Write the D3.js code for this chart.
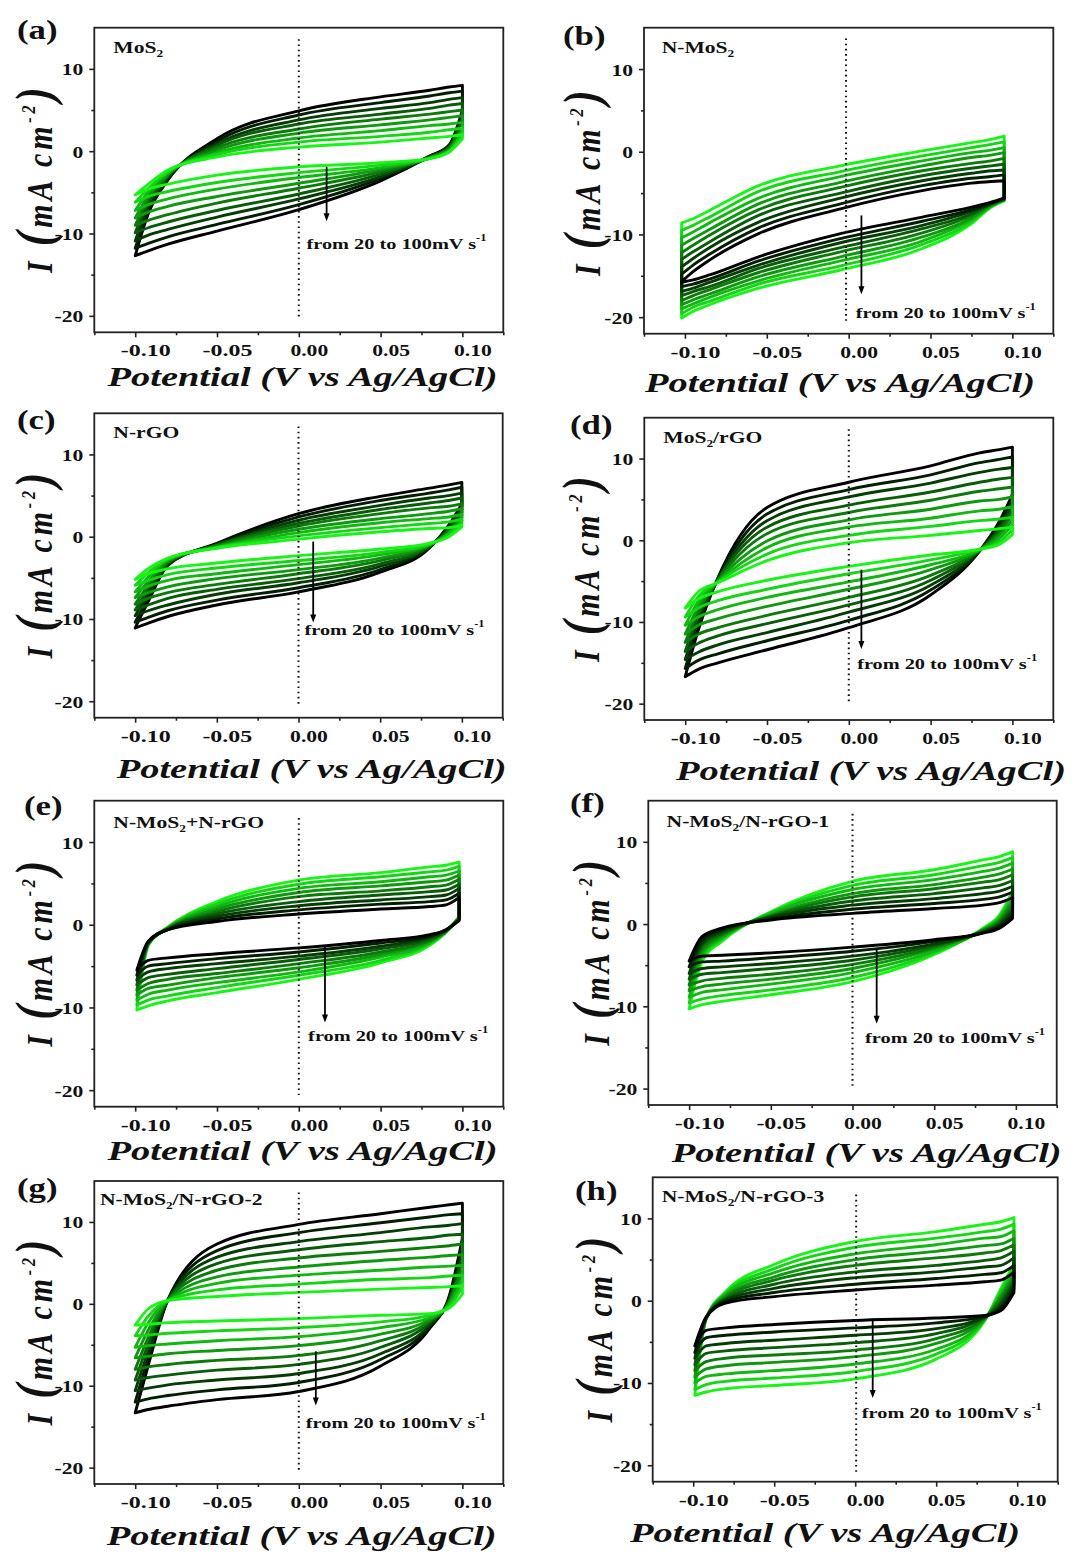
<!DOCTYPE html>
<html><head><meta charset="utf-8">
<script src="https://cdn.jsdelivr.net/npm/d3@7"></script>
<style>
body{margin:0;background:#fff}
svg{display:block}
text{font-family:"Liberation Serif","Times New Roman","DejaVu Serif",serif;font-weight:bold;fill:#111}
</style>
</head><body>
<svg id="chart" width="1091" height="1555"></svg>
<script>
// ---------------- DATA ----------------
const scanRates = [20, 30, 40, 50, 60, 70, 80, 90, 100]; // mV s-1
const xTicks = [-0.10, -0.05, 0.00, 0.05, 0.10];
const xMinorTicks = [-0.125, -0.075, -0.025, 0.025, 0.075, 0.125];
const yTicks = [-20, -10, 0, 10];
const yMinorTicks = [-15, -5, 5];

// (a) MoS2
const potA = [-0.1, -0.092, -0.08, -0.05, 0, 0.05, 0.08, 0.092, 0.1];
const upA = [
  [-5.3, -4.0, -2.3, -0.7, 0.5, 1.1, 1.6, 1.8, 2.0],
  [-6.2, -4.5, -2.5, -0.4, 1.1, 1.8, 2.3, 2.6, 2.8],
  [-7.2, -4.9, -2.6, -0.2, 1.6, 2.5, 3.1, 3.3, 3.5],
  [-8.1, -5.4, -2.8, 0.1, 2.2, 3.2, 3.8, 4.1, 4.3],
  [-9.0, -5.8, -2.9, 0.4, 2.7, 3.9, 4.5, 4.8, 5.0],
  [-9.9, -6.3, -3.1, 0.7, 3.3, 4.5, 5.2, 5.6, 5.8],
  [-10.9, -6.7, -3.2, 0.9, 3.8, 5.2, 5.9, 6.3, 6.5],
  [-11.8, -7.2, -3.4, 1.2, 4.4, 5.9, 6.7, 7.1, 7.3],
  [-12.7, -7.6, -3.5, 1.5, 4.9, 6.6, 7.4, 7.8, 8.0]];
const lowA = [
  [-5.3, -4.6, -4.0, -2.9, -1.9, -1.4, -0.9, -0.1, 1.5],
  [-6.2, -5.5, -4.9, -3.8, -2.6, -1.7, -0.9, 0.0, 1.9],
  [-7.2, -6.5, -5.8, -4.6, -3.2, -2.0, -0.8, 0.1, 2.4],
  [-8.1, -7.4, -6.7, -5.5, -3.9, -2.2, -0.8, 0.2, 2.8],
  [-9.0, -8.4, -7.7, -6.3, -4.5, -2.5, -0.8, 0.4, 3.3],
  [-9.9, -9.3, -8.6, -7.2, -5.2, -2.8, -0.7, 0.5, 3.7],
  [-10.9, -10.2, -9.5, -8.0, -5.8, -3.1, -0.7, 0.6, 4.1],
  [-11.8, -11.2, -10.4, -8.9, -6.5, -3.3, -0.6, 0.7, 4.6],
  [-12.7, -12.1, -11.3, -9.7, -7.1, -3.6, -0.6, 0.8, 5.0]];

// (b) N-MoS2
const potB = [-0.102, -0.095, -0.085, -0.055, -0.005, 0.045, 0.075, 0.087, 0.095];
const upB = [
  [-15.7, -14.5, -13.1, -9.9, -6.9, -4.7, -3.8, -3.6, -3.5],
  [-14.8, -13.7, -12.4, -9.2, -6.3, -4.1, -3.2, -3.0, -2.8],
  [-13.9, -12.9, -11.6, -8.5, -5.6, -3.5, -2.6, -2.3, -2.2],
  [-13.0, -12.1, -10.9, -7.7, -5.0, -2.9, -2.0, -1.7, -1.5],
  [-12.2, -11.3, -10.1, -7.0, -4.3, -2.3, -1.4, -1.1, -0.8],
  [-11.3, -10.5, -9.4, -6.3, -3.7, -1.7, -0.7, -0.4, -0.1],
  [-10.4, -9.7, -8.6, -5.6, -3.0, -1.1, -0.1, 0.2, 0.5],
  [-9.5, -8.9, -7.9, -4.8, -2.4, -0.5, 0.5, 0.9, 1.2],
  [-8.6, -8.1, -7.1, -4.1, -1.7, 0.1, 1.1, 1.5, 1.9]];
const lowB = [
  [-15.8, -15.5, -14.9, -12.7, -9.9, -7.9, -6.7, -6.1, -5.6],
  [-16.3, -16.0, -15.4, -13.2, -10.5, -8.4, -7.0, -6.2, -5.6],
  [-16.9, -16.5, -15.8, -13.7, -11.0, -8.9, -7.2, -6.3, -5.7],
  [-17.4, -16.9, -16.3, -14.1, -11.6, -9.3, -7.5, -6.3, -5.7],
  [-18.0, -17.4, -16.7, -14.6, -12.1, -9.8, -7.7, -6.4, -5.8],
  [-18.5, -17.9, -17.2, -15.1, -12.7, -10.3, -8.0, -6.5, -5.8],
  [-19.0, -18.4, -17.6, -15.6, -13.2, -10.8, -8.2, -6.6, -5.8],
  [-19.6, -18.8, -18.1, -16.0, -13.8, -11.2, -8.5, -6.6, -5.9],
  [-20.1, -19.3, -18.5, -16.5, -14.3, -11.7, -8.7, -6.7, -5.9]];

// (c) N-rGO
const potC = [-0.1, -0.092, -0.08, -0.05, 0, 0.05, 0.08, 0.092, 0.1];
const upC = [
  [-5.2, -3.9, -2.6, -1.4, -0.3, 0.6, 1.0, 1.1, 1.4],
  [-5.9, -4.4, -2.7, -1.3, 0.1, 1.1, 1.6, 1.8, 2.1],
  [-6.7, -4.9, -2.8, -1.3, 0.5, 1.7, 2.2, 2.4, 2.7],
  [-7.4, -5.4, -2.9, -1.2, 0.9, 2.2, 2.8, 3.1, 3.4],
  [-8.2, -5.9, -3.1, -1.1, 1.3, 2.8, 3.5, 3.7, 4.0],
  [-8.9, -6.4, -3.2, -1.0, 1.6, 3.3, 4.1, 4.4, 4.7],
  [-9.6, -6.9, -3.3, -1.0, 2.0, 3.8, 4.7, 5.0, 5.3],
  [-10.4, -7.4, -3.4, -0.9, 2.4, 4.4, 5.3, 5.7, 6.0],
  [-11.1, -7.9, -3.5, -0.8, 2.8, 4.9, 5.9, 6.3, 6.6]];
const lowC = [
  [-5.2, -4.5, -3.9, -3.2, -2.3, -1.5, -0.8, 0.0, 1.2],
  [-5.9, -5.3, -4.6, -3.8, -2.9, -1.9, -0.9, 0.2, 1.6],
  [-6.7, -6.0, -5.3, -4.5, -3.4, -2.2, -1.0, 0.4, 1.9],
  [-7.4, -6.8, -6.1, -5.1, -4.0, -2.6, -1.0, 0.5, 2.3],
  [-8.2, -7.5, -6.8, -5.8, -4.5, -2.9, -1.1, 0.7, 2.6],
  [-8.9, -8.3, -7.5, -6.4, -5.1, -3.3, -1.2, 0.9, 3.0],
  [-9.6, -9.0, -8.3, -7.0, -5.6, -3.6, -1.3, 1.1, 3.3],
  [-10.4, -9.8, -9.0, -7.7, -6.2, -4.0, -1.3, 1.2, 3.7],
  [-11.1, -10.5, -9.7, -8.3, -6.7, -4.3, -1.4, 1.4, 4.0]];

// (d) MoS2/rGO
const potD = [-0.1, -0.092, -0.08, -0.05, 0, 0.05, 0.08, 0.092, 0.1];
const upD = [
  [-8.3, -6.3, -5.2, -2.5, -0.3, 0.6, 1.2, 1.4, 1.6],
  [-9.4, -6.9, -5.1, -1.7, 0.6, 1.7, 2.4, 2.6, 2.8],
  [-10.4, -7.5, -5.1, -0.9, 1.6, 2.7, 3.6, 3.8, 4.1],
  [-11.5, -8.1, -5.0, -0.1, 2.5, 3.8, 4.8, 5.0, 5.3],
  [-12.5, -8.7, -4.9, 0.8, 3.4, 4.9, 6.0, 6.3, 6.5],
  [-13.6, -9.2, -4.8, 1.6, 4.3, 5.9, 7.1, 7.5, 7.7],
  [-14.6, -9.8, -4.8, 2.4, 5.3, 7.0, 8.3, 8.7, 8.9],
  [-15.7, -10.4, -4.7, 3.2, 6.2, 8.0, 9.5, 9.9, 10.2],
  [-16.7, -11.0, -4.6, 4.0, 7.1, 9.1, 10.7, 11.1, 11.4]];
const lowD = [
  [-8.3, -7.2, -6.3, -4.9, -3.2, -1.8, -1.1, -0.5, 0.7],
  [-9.4, -8.3, -7.4, -6.0, -4.1, -2.4, -1.1, -0.2, 1.3],
  [-10.4, -9.4, -8.5, -7.0, -5.1, -3.0, -1.2, 0.2, 1.9],
  [-11.5, -10.4, -9.6, -8.1, -6.0, -3.6, -1.2, 0.6, 2.5],
  [-12.5, -11.5, -10.7, -9.2, -7.0, -4.3, -1.2, 0.9, 3.2],
  [-13.6, -12.6, -11.7, -10.2, -7.9, -4.9, -1.2, 1.3, 3.8],
  [-14.6, -13.7, -12.8, -11.3, -8.8, -5.5, -1.3, 1.6, 4.4],
  [-15.7, -14.7, -13.9, -12.3, -9.8, -6.1, -1.3, 2.0, 5.0],
  [-16.7, -15.8, -15.0, -13.4, -10.7, -6.7, -1.3, 2.3, 5.6]];

// (e) N-MoS2+N-rGO
const potE = [-0.099, -0.092, -0.08, -0.05, 0, 0.05, 0.08, 0.09, 0.098];
const upE = [
  [-5.5, -2.0, -0.6, 0.4, 1.3, 1.9, 2.2, 2.4, 3.3],
  [-6.1, -2.1, -0.6, 0.7, 1.8, 2.5, 2.8, 3.0, 3.8],
  [-6.7, -2.1, -0.5, 1.0, 2.3, 3.0, 3.4, 3.6, 4.4],
  [-7.3, -2.2, -0.5, 1.3, 2.8, 3.6, 4.0, 4.2, 4.9],
  [-7.9, -2.3, -0.5, 1.6, 3.4, 4.1, 4.6, 4.8, 5.5],
  [-8.5, -2.3, -0.4, 1.9, 3.9, 4.7, 5.2, 5.4, 6.0],
  [-9.1, -2.4, -0.4, 2.2, 4.4, 5.2, 5.8, 6.0, 6.5],
  [-9.7, -2.4, -0.3, 2.5, 4.9, 5.8, 6.4, 6.6, 7.1],
  [-10.3, -2.5, -0.3, 2.8, 5.4, 6.3, 7.0, 7.2, 7.6]];
const lowE = [
  [-5.5, -4.3, -4.0, -3.5, -2.8, -1.9, -1.2, -0.6, 0.5],
  [-6.1, -5.0, -4.7, -4.1, -3.3, -2.2, -1.4, -0.6, 0.6],
  [-6.7, -5.7, -5.3, -4.7, -3.8, -2.6, -1.5, -0.7, 0.6],
  [-7.3, -6.4, -6.0, -5.3, -4.2, -2.9, -1.7, -0.7, 0.7],
  [-7.9, -7.1, -6.6, -5.9, -4.7, -3.3, -1.9, -0.8, 0.8],
  [-8.5, -7.7, -7.3, -6.4, -5.2, -3.6, -2.0, -0.8, 0.8],
  [-9.1, -8.4, -7.9, -7.0, -5.7, -3.9, -2.2, -0.8, 0.9],
  [-9.7, -9.1, -8.6, -7.6, -6.1, -4.3, -2.3, -0.9, 0.9],
  [-10.3, -9.8, -9.2, -8.2, -6.6, -4.6, -2.5, -0.9, 1.0]];

// (f) N-MoS2/N-rGO-1
const potF = [-0.1, -0.092, -0.08, -0.05, 0, 0.05, 0.08, 0.09, 0.098];
const upF = [
  [-4.5, -1.5, -0.5, 0.5, 1.3, 1.9, 2.3, 2.6, 3.2],
  [-5.2, -1.9, -0.7, 0.6, 1.8, 2.5, 3.0, 3.3, 3.9],
  [-6.0, -2.3, -0.9, 0.8, 2.3, 3.1, 3.7, 4.0, 4.6],
  [-6.7, -2.6, -1.1, 0.9, 2.8, 3.7, 4.4, 4.7, 5.3],
  [-7.4, -3.0, -1.3, 1.0, 3.3, 4.3, 5.1, 5.4, 6.0],
  [-8.1, -3.4, -1.5, 1.1, 3.7, 4.8, 5.7, 6.1, 6.7],
  [-8.9, -3.8, -1.7, 1.3, 4.2, 5.4, 6.4, 6.8, 7.4],
  [-9.6, -4.1, -1.9, 1.4, 4.7, 6.0, 7.1, 7.5, 8.1],
  [-10.3, -4.5, -2.1, 1.5, 5.2, 6.6, 7.8, 8.2, 8.8]];
const lowF = [
  [-4.5, -3.9, -3.8, -3.5, -2.8, -1.9, -1.1, -0.5, 0.7],
  [-5.2, -4.6, -4.5, -4.1, -3.3, -2.1, -1.0, -0.3, 1.1],
  [-6.0, -5.4, -5.2, -4.8, -3.9, -2.4, -1.0, -0.1, 1.5],
  [-6.7, -6.1, -5.9, -5.4, -4.4, -2.6, -0.9, 0.1, 1.9],
  [-7.4, -6.9, -6.6, -6.1, -4.9, -2.8, -0.8, 0.3, 2.4],
  [-8.1, -7.6, -7.3, -6.7, -5.4, -3.0, -0.7, 0.5, 2.8],
  [-8.9, -8.3, -8.0, -7.3, -5.9, -3.3, -0.7, 0.7, 3.2],
  [-9.6, -9.1, -8.7, -8.0, -6.5, -3.5, -0.6, 0.9, 3.6],
  [-10.3, -9.8, -9.4, -8.6, -7.0, -3.7, -0.5, 1.1, 4.0]];

// (g) N-MoS2/N-rGO-2
const potG = [-0.1, -0.092, -0.08, -0.05, 0, 0.05, 0.08, 0.092, 0.1];
const upG = [
  [-2.6, -0.6, 0.4, 0.9, 1.4, 1.8, 2.0, 2.1, 2.2],
  [-3.9, -1.5, 0.4, 1.7, 2.4, 3.0, 3.2, 3.4, 3.5],
  [-5.3, -2.3, 0.4, 2.5, 3.5, 4.1, 4.5, 4.6, 4.7],
  [-6.6, -3.2, 0.4, 3.3, 4.5, 5.3, 5.7, 5.9, 6.0],
  [-8.0, -4.1, 0.5, 4.1, 5.6, 6.4, 6.9, 7.1, 7.3],
  [-9.3, -4.9, 0.5, 4.9, 6.6, 7.6, 8.1, 8.4, 8.5],
  [-10.6, -5.8, 0.5, 5.7, 7.6, 8.7, 9.4, 9.6, 9.8],
  [-12.0, -6.6, 0.5, 6.5, 8.7, 9.9, 10.6, 10.9, 11.0],
  [-13.3, -7.5, 0.5, 7.3, 9.7, 11.0, 11.8, 12.1, 12.3]];
const lowG = [
  [-2.6, -2.5, -2.3, -2.1, -1.8, -1.4, -1.2, -0.5, 1.2],
  [-3.9, -3.8, -3.6, -3.3, -2.9, -2.2, -1.4, -0.3, 2.1],
  [-5.3, -5.1, -4.9, -4.5, -4.0, -2.9, -1.7, -0.1, 2.9],
  [-6.6, -6.4, -6.1, -5.7, -5.1, -3.7, -1.9, 0.1, 3.8],
  [-8.0, -7.7, -7.4, -6.9, -6.3, -4.5, -2.1, 0.3, 4.6],
  [-9.3, -9.0, -8.7, -8.1, -7.4, -5.3, -2.3, 0.4, 5.5],
  [-10.6, -10.3, -9.9, -9.3, -8.5, -6.1, -2.6, 0.6, 6.3],
  [-12.0, -11.6, -11.2, -10.5, -9.6, -6.8, -2.8, 0.8, 7.2],
  [-13.3, -12.9, -12.5, -11.7, -10.7, -7.6, -3.0, 1.0, 8.0]];

// (h) N-MoS2/N-rGO-3
const potH = [-0.099, -0.092, -0.08, -0.05, 0, 0.05, 0.08, 0.09, 0.098];
const upH = [
  [-5.5, -2.0, -0.3, 0.5, 1.3, 1.9, 2.3, 2.5, 3.5],
  [-6.3, -2.0, -0.1, 1.0, 2.0, 2.7, 3.2, 3.4, 4.3],
  [-7.0, -2.1, 0.1, 1.5, 2.8, 3.5, 4.1, 4.3, 5.2],
  [-7.8, -2.1, 0.2, 2.0, 3.5, 4.3, 4.9, 5.2, 6.0],
  [-8.5, -2.1, 0.4, 2.5, 4.3, 5.2, 5.8, 6.1, 6.8],
  [-9.3, -2.1, 0.6, 2.9, 5.0, 6.0, 6.7, 6.9, 7.6],
  [-10.0, -2.2, 0.8, 3.4, 5.7, 6.8, 7.6, 7.8, 8.5],
  [-10.8, -2.2, 0.9, 3.9, 6.5, 7.6, 8.4, 8.7, 9.3],
  [-11.5, -2.2, 1.1, 4.4, 7.2, 8.4, 9.3, 9.6, 10.1]];
const lowH = [
  [-5.5, -3.6, -3.3, -2.9, -2.4, -2.1, -1.8, -1.2, 1.0],
  [-6.3, -4.5, -4.2, -3.8, -3.3, -2.7, -1.9, -0.9, 1.4],
  [-7.0, -5.5, -5.2, -4.8, -4.2, -3.4, -2.0, -0.5, 1.9],
  [-7.8, -6.4, -6.1, -5.7, -5.1, -4.0, -2.0, -0.2, 2.3],
  [-8.5, -7.4, -7.0, -6.6, -6.0, -4.6, -2.1, 0.2, 2.8],
  [-9.3, -8.3, -7.9, -7.5, -6.8, -5.2, -2.2, 0.5, 3.2],
  [-10.0, -9.2, -8.9, -8.5, -7.7, -5.9, -2.3, 0.8, 3.6],
  [-10.8, -10.2, -9.8, -9.4, -8.6, -6.5, -2.3, 1.2, 4.1],
  [-11.5, -11.1, -10.7, -10.3, -9.5, -7.1, -2.4, 1.5, 4.5]];

const panelLetters = ["(a)", "(b)", "(c)", "(d)", "(e)", "(f)", "(g)", "(h)"];
const materials = ["MoS_2", "N-MoS_2", "N-rGO", "MoS_2/rGO", "N-MoS_2+N-rGO",
                   "N-MoS_2/N-rGO-1", "N-MoS_2/N-rGO-2", "N-MoS_2/N-rGO-3"];
// scan rate drawn in black (the other end of the series is bright green)
const blackRate = [100, 20, 100, 100, 20, 20, 100, 20];

// ---------------- LAYOUT ----------------
const xDomain = [-0.125, 0.125], yDomain = [-22, 15];
const panels = [
  {pot: potA, up: upA, low: lowA, f: [94.3, 27.7, 409, 304.6], letter: [17, 39], title: [302.5, 386], yt: [52, 180], mat: [19, 25.7], anno: [0.0047, -11.9], arrow: [0.017, -1.9, -8.4], dot: [0, 13.6, -20.5]},
  {pot: potB, up: upB, low: lowB, f: [644, 27.7, 409.3, 306], letter: [563, 45], title: [840, 392], yt: [600, 183], mat: [17.7, 25.7], anno: [0.0044, -20.1], arrow: [0.0078, -7.7, -17.1], dot: [-0.0016, 13.7, -20.5]},
  {pot: potC, up: upC, low: lowC, f: [94.3, 413.3, 408.4, 304.4], letter: [17, 429], title: [311.7, 778], yt: [52, 565.5], mat: [19, 25], anno: [0.0037, -12.0], arrow: [0.009, -0.6, -10.3], dot: [0, 13.4, -20.3]},
  {pot: potD, up: upD, low: lowD, f: [644.3, 417.7, 409, 302.3], letter: [570, 434], title: [871, 780], yt: [599, 569], mat: [19, 25.7], anno: [0.0051, -15.8], arrow: [0.0077, -3.6, -13.2], dot: [0, 13.6, -20.1]},
  {pot: potE, up: upE, low: lowE, f: [94.3, 800.7, 409, 306], letter: [24, 815], title: [302.5, 1160], yt: [52, 953.7], mat: [19, 27.7], anno: [0.0057, -14.1], arrow: [0.016, -2.5, -11.7], dot: [0, 12.9, -20.6]},
  {pot: potF, up: upF, low: lowF, f: [648.3, 800.7, 408.4, 304.3], letter: [570, 812], title: [866.7, 1162], yt: [609, 952.8], mat: [18.3, 26], anno: [0.0077, -14.5], arrow: [0.0148, -2.9, -12.0], dot: [0, 13.4, -20.0]},
  {pot: potG, up: upG, low: lowG, f: [94.3, 1181, 409, 303], letter: [17, 1197], title: [301.7, 1545], yt: [52, 1332.5], mat: [5.7, 24], anno: [0.0043, -15.2], arrow: [0.0104, -5.8, -12.3], dot: [0, 13.6, -20.5]},
  {pot: potH, up: upH, low: lowH, f: [652.7, 1177.3, 405, 304.4], letter: [575, 1200], title: [825, 1542], yt: [612, 1329.5], mat: [9, 24.4], anno: [0.0041, -14.2], arrow: [0.0108, -2.2, -11.7], dot: [0.0006, 12.9, -21.1]}
];

const SX = 1.2; // horizontal stretch of the original figure's lettering
const GREEN = "#17f517";
const svg = d3.select("#chart");

// Times-Bold advance widths (per 1000 em) used to size text like the original
const TB = {" ":250,"(":333,")":333,"+":570,"-":333,".":250,"/":278,"A":722,"C":722,"G":778,"M":944,
  "N":722,"O":778,"S":556,"V":722,"a":500,"b":556,"c":444,"d":556,"e":444,"f":333,"g":500,"h":556,
  "m":833,"o":500,"r":444,"s":389,"t":333};
const tw = (s, size, minus) => d3.sum(s.split(""), c => (c === "-" && minus) ? minus : (TB[c] ?? 500)) * size / 1000 * SX;

function addMaterial(g, str, x, y) {
  const parts = str.split("_2");
  const target = tw(parts.join(""), 18) + (parts.length - 1) * tw("2", 11);
  const t = g.append("text").attr("x", x).attr("y", y)
    .attr("textLength", target).attr("lengthAdjust", "spacingAndGlyphs")
    .style("font-size", "17px");
  parts.forEach((s, i) => {
    if (i > 0) {
      t.append("tspan").attr("dy", 4).style("font-size", "10.5px").text("2");
      if (s) t.append("tspan").attr("dy", -4).text(s);
    } else t.append("tspan").text(s);
  });
}

panels.forEach((p, pi) => {
  const [L, T, W, H] = p.f;
  const g = svg.append("g");
  const x = d3.scaleLinear().domain(xDomain).range([L, L + W]);
  const y = d3.scaleLinear().domain(yDomain).range([T + H, T]);

  const interp = d3.interpolateRgb("#000000", GREEN);
  const colorOf = k => {
    const t = k / (scanRates.length - 1);
    return interp(blackRate[pi] === 20 ? t : 1 - t);
  };

  // CV loops
  const line = d3.line().x(d => x(d[0])).y(d => y(d[1])).curve(d3.curveMonotoneX);
  d3.range(scanRates.length).reverse().forEach(k => {
    const up = p.pot.map((v, j) => [v, p.up[k][j]]);
    const lo = p.pot.map((v, j) => [v, p.low[k][j]]).reverse();
    const d = line(up) + line(lo).replace(/^M/, "L") + "Z";
    g.append("path").attr("d", d).attr("fill", "none")
      .attr("stroke", colorOf(k)).attr("stroke-width", 2.9)
      .attr("stroke-linejoin", "round");
  });

  // dotted zero line
  g.append("line").attr("x1", x(p.dot[0])).attr("x2", x(p.dot[0]))
    .attr("y1", y(p.dot[1])).attr("y2", y(p.dot[2]))
    .attr("stroke", "#111").attr("stroke-width", 2).attr("stroke-dasharray", "1.6,3.6");

  // frame
  g.append("rect").attr("x", L).attr("y", T).attr("width", W).attr("height", H)
    .attr("fill", "none").attr("stroke", "#222").attr("stroke-width", 1.8);

  // axes
  const ax = g.append("g").attr("transform", `translate(0,${T + H})`)
    .call(d3.axisBottom(x).tickValues(xTicks).tickSize(5).tickFormat(d => d.toFixed(2)));
  ax.select(".domain").remove();
  ax.selectAll("line").attr("stroke", "#222").attr("stroke-width", 1.6);
  ax.selectAll("text").attr("x", 10).attr("y", 24).attr("dy", 0)
    .attr("textLength", d => tw(d.toFixed(2), 18, 560)).attr("lengthAdjust", "spacingAndGlyphs")
    .style("font-size", "16px").style("font-family", null).attr("fill", "#111");
  const axm = g.append("g").attr("transform", `translate(0,${T + H})`)
    .call(d3.axisBottom(x).tickValues(xMinorTicks).tickSize(3).tickFormat(""));
  axm.select(".domain").remove();
  axm.selectAll("line").attr("stroke", "#222").attr("stroke-width", 1.6);

  const ay = g.append("g").attr("transform", `translate(${L},0)`)
    .call(d3.axisLeft(y).tickValues(yTicks).tickSize(5).tickFormat(d => String(d)));
  ay.select(".domain").remove();
  ay.selectAll("line").attr("stroke", "#222").attr("stroke-width", 1.6);
  ay.selectAll("text").attr("x", -11).attr("dy", 0).attr("y", 6)
    .attr("textLength", d => tw(String(d), 18)).attr("lengthAdjust", "spacingAndGlyphs")
    .style("font-size", "16px").style("font-family", null).attr("fill", "#111");
  ay.attr("font-family", null); ax.attr("font-family", null);
  const aym = g.append("g").attr("transform", `translate(${L},0)`)
    .call(d3.axisLeft(y).tickValues(yMinorTicks).tickSize(3).tickFormat(""));
  aym.select(".domain").remove();
  aym.selectAll("line").attr("stroke", "#222").attr("stroke-width", 1.6);

  // panel letter
  g.append("text").attr("x", p.letter[0]).attr("y", p.letter[1])
    .attr("textLength", tw(panelLetters[pi], 29)).attr("lengthAdjust", "spacingAndGlyphs")
    .style("font-size", "26.5px").text(panelLetters[pi]);

  // material label
  addMaterial(g, materials[pi], L + p.mat[0], T + p.mat[1]);

  // x title
  g.append("text").attr("x", p.title[0]).attr("y", p.title[1])
    .attr("text-anchor", "middle").attr("textLength", 390).attr("lengthAdjust", "spacingAndGlyphs")
    .style("font-size", "27px").style("font-style", "italic").text("Potential (V vs Ag/AgCl)");

  // y title
  const yt = g.append("text")
    .attr("transform", `translate(${p.yt[0]},${p.yt[1]}) rotate(-90) scale(1,${SX})`)
    .attr("text-anchor", "middle").attr("textLength", 186).attr("lengthAdjust", "spacing")
    .style("font-size", "30px").style("font-style", "italic");
  yt.append("tspan").text("I ");
  yt.append("tspan").style("font-size", "44px").text("(");
  yt.append("tspan").text("mA cm");
  yt.append("tspan").style("font-size", "16px").attr("dy", -14).text("-2");
  yt.append("tspan").style("font-size", "44px").attr("dy", 14).text(")");

  // arrow
  const axp = x(p.arrow[0]);
  const yb = y(p.arrow[2]);
  g.append("line").attr("x1", axp).attr("x2", axp)
    .attr("y1", y(p.arrow[1])).attr("y2", yb - 4)
    .attr("stroke", "#000").attr("stroke-width", 1.8);
  g.append("path").attr("d", `M${axp},${yb + 1}L${axp - 3},${yb - 7}L${axp + 3},${yb - 7}Z`).attr("fill", "#000");

  // annotation
  const an = g.append("text").attr("x", x(p.anno[0])).attr("y", y(p.anno[1]))
    .attr("textLength", 180).attr("lengthAdjust", "spacingAndGlyphs")
    .style("font-size", "15.5px");
  an.append("tspan").text("from 20 to 100mV  s");
  an.append("tspan").attr("dy", -8).style("font-size", "9.5px").text("-1");
});
</script>
</body></html>
